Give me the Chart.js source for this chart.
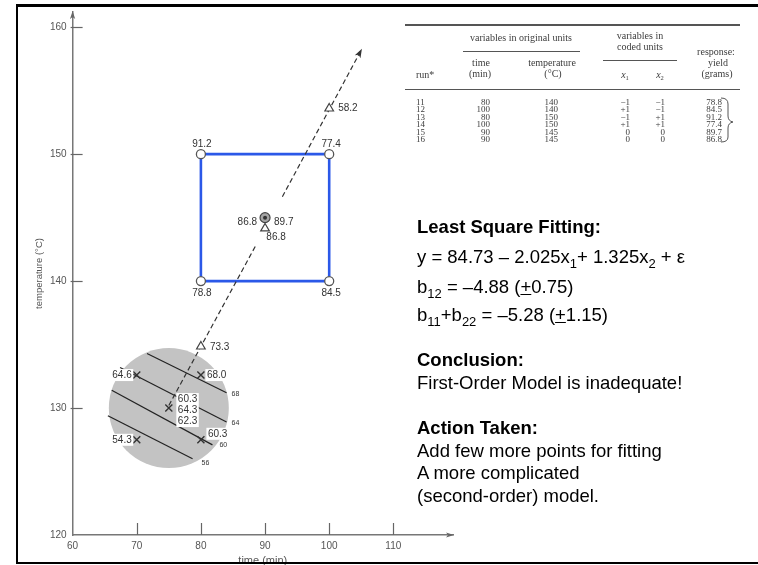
<!DOCTYPE html>
<html>
<head>
<meta charset="utf-8">
<script src="https://cdn.jsdelivr.net/npm/chart.js@4/dist/chart.umd.min.js"></script>
<style>
  html, body { margin: 0; padding: 0; background: #fff; }
  #wrap { position: relative; width: 758px; height: 565px; overflow: hidden; background: #fff; }
  #chart { position: absolute; left: 0; top: 0; }
  #frame { position: absolute; left: 16px; top: 4px; width: 780px; height: 555px;
           border-left: 2px solid #000; border-top: 3px solid #000; border-bottom: 2px solid #000;
           pointer-events: none; }
  .tb { position: absolute; font-family: "Liberation Serif", "DejaVu Serif", serif; color: #3c3c3c;
        white-space: nowrap; line-height: 1; }
  .tb.hd { font-size: 10px; }
  .tb.row { font-size: 9px; }
  .tb i { font-style: italic; }
  .tb sub { font-size: 6.5px; vertical-align: -2px; line-height: 0; }
  .rule { position: absolute; background: #555; height: 1px; }
  .nt { position: absolute; left: 417px; font-family: "Liberation Sans", Arial, sans-serif;
        font-size: 18.5px; color: #000; line-height: 22px; white-space: nowrap; }
  .nt b { font-weight: bold; }
  .nt sub { font-size: 13px; vertical-align: -5px; line-height: 0; }
</style>
</head>
<body>
<div id="wrap">
  <canvas id="chart" width="758" height="565"></canvas>
  <div id="table"></div>
  <svg id="brace" width="758" height="565" style="position:absolute;left:0;top:0;pointer-events:none">
    <path d="M721,98 Q728,98 728,104 L728,116 Q728,121 733,122 Q728,123 728,128 L728,137 Q728,142 721,142"
          fill="none" stroke="#555" stroke-width="1"/>
  </svg>
  <div class="nt" style="top:216px"><b>Least Square Fitting:</b></div>
  <div class="nt" style="top:246px">y = 84.73 – 2.025x<sub>1</sub>+ 1.325x<sub>2</sub> + ε</div>
  <div class="nt" style="top:276px">b<sub>12</sub> = –4.88 (<u>+</u>0.75)</div>
  <div class="nt" style="top:304px">b<sub>11</sub>+b<sub>22</sub> = –5.28 (<u>+</u>1.15)</div>
  <div class="nt" style="top:349px"><b>Conclusion:</b></div>
  <div class="nt" style="top:372px">First-Order Model is inadequate!</div>
  <div class="nt" style="top:417px"><b>Action Taken:</b></div>
  <div class="nt" style="top:440px">Add few more points for fitting</div>
  <div class="nt" style="top:462px">A more complicated</div>
  <div class="nt" style="top:485px">(second-order) model.</div>
  <div id="frame"></div>
</div>
<script>
// ---- axes ----
const timeTicks = [60, 70, 80, 90, 100, 110];
const tempTicks = [120, 130, 140, 150, 160];
const timeRange = [60, 119.3];
const tempRange = [120, 161.2];

// ---- runs 11-16: 2^2 factorial with two centre points ----
const runs = ['11', '12', '13', '14', '15', '16'];
const runTime = [80, 100, 80, 100, 90, 90];
const runTemp = [140, 140, 150, 150, 145, 145];
const codedX1 = ['\u22121', '+1', '\u22121', '+1', '0', '0'];
const codedX2 = ['\u22121', '\u22121', '+1', '+1', '0', '0'];
const runYield = [78.8, 84.5, 91.2, 77.4, 89.7, 86.8];

// ---- first design (circle region) ----
const firstTime = [70, 80, 70, 80, 75];
const firstTemp = [132.6, 132.6, 127.5, 127.5, 130];
const firstYield = [['64.6'], ['68.0'], ['54.3'], ['60.3'], ['60.3', '64.3', '62.3']];
const regionCentre = [75, 130];

// ---- contours of the first-order fit ----
const contourLevels = [68, 64, 60, 56];
const contourTime = [[71.6, 84.0], [67.4, 84.0], [66.1, 81.8], [65.5, 78.7]];
const contourTemp = [[134.3, 131.2], [133.2, 128.9], [131.4, 127.1], [129.4, 126.0]];

// ---- path of steepest ascent ----
const ascentTime = [80, 90, 100];
const ascentTemp = [134.85, 144.15, 153.6];
const ascentYield = [73.3, 86.8, 58.2];
const ascentLowerTime = [75, 88.6];
const ascentLowerTemp = [130.2, 142.85];
const ascentUpperTime = [92.7, 105.1];
const ascentUpperTemp = [146.65, 158.3];

// ---------- table ----------
const tableEl = document.getElementById('table');
function place(html, x, y, align, cls) {
  const s = document.createElement('span');
  s.className = 'tb ' + cls;
  s.innerHTML = html;
  s.style.left = x + 'px';
  s.style.top = y + 'px';
  const tx = align === 'l' ? '0' : align === 'r' ? '-100%' : '-50%';
  s.style.transform = 'translate(' + tx + ',-50%)';
  tableEl.appendChild(s);
}
function rule(x1, x2, y, h) {
  const d = document.createElement('div');
  d.className = 'rule';
  d.style.left = x1 + 'px'; d.style.width = (x2 - x1) + 'px';
  d.style.top = y + 'px'; d.style.height = h + 'px';
  tableEl.appendChild(d);
}
rule(405, 740, 24, 2);
place('variables in original units', 521, 38, 'c', 'hd');
rule(463, 580, 51, 1);
place('variables in', 640, 36, 'c', 'hd');
place('coded units', 640, 47, 'c', 'hd');
rule(603, 677, 60, 1);
place('response:', 716, 52, 'c', 'hd');
place('time', 481, 63, 'c', 'hd');
place('(min)', 480, 74, 'c', 'hd');
place('temperature', 552, 63, 'c', 'hd');
place('(\u00B0C)', 553, 74, 'c', 'hd');
place('yield', 718, 63, 'c', 'hd');
place('(grams)', 717, 74, 'c', 'hd');
place('run*', 416, 75, 'l', 'hd');
place('<i>x</i><sub>1</sub>', 625, 75, 'c', 'hd');
place('<i>x</i><sub>2</sub>', 660, 75, 'c', 'hd');
rule(405, 740, 89, 1);
runs.forEach((r, i) => {
  const y = 102 + i * 7.4;
  place(r, 416, y, 'l', 'row');
  place(String(runTime[i]), 490, y, 'r', 'row');
  place(String(runTemp[i]), 558, y, 'r', 'row');
  place(codedX1[i], 630, y, 'r', 'row');
  place(codedX2[i], 665, y, 'r', 'row');
  place(runYield[i].toFixed(1), 722, y, 'r', 'row');
});

// ---------- chart ----------
const pts = (xs, ys) => xs.map((x, i) => ({ x: x, y: ys[i] }));
const INK = '#333';
const LABEL_FONT = '10px "Liberation Sans", Arial, sans-serif';

const datasets = [];
datasets.push({
  type: 'bubble', order: 20,
  data: [{ x: regionCentre[0], y: regionCentre[1], r: 60 }],
  backgroundColor: '#c3c3c3', borderWidth: 0
});
contourLevels.forEach((lv, i) => {
  datasets.push({
    type: 'line', order: 15, data: pts(contourTime[i], contourTemp[i]),
    borderColor: '#222', borderWidth: 1.2, pointRadius: 0, fill: false
  });
});
datasets.push({
  type: 'line', order: 12,
  data: pts([runTime[0], runTime[1], runTime[3], runTime[2], runTime[0]],
            [runTemp[0], runTemp[1], runTemp[3], runTemp[2], runTemp[0]]),
  borderColor: '#2b58e8', borderWidth: 2.6, pointRadius: 0, fill: false
});
datasets.push({
  type: 'line', order: 11, data: pts(ascentLowerTime, ascentLowerTemp),
  borderColor: INK, borderWidth: 1.2, borderDash: [5, 3], pointRadius: 0, fill: false
});
datasets.push({
  type: 'line', order: 11, data: pts(ascentUpperTime, ascentUpperTemp),
  borderColor: INK, borderWidth: 1.2, borderDash: [5, 3], pointRadius: 0, fill: false
});
datasets.push({
  type: 'scatter', order: 6, data: pts(firstTime, firstTemp),
  pointStyle: 'crossRot', pointRadius: 5, borderColor: INK, borderWidth: 1.4
});
datasets.push({
  type: 'scatter', order: 5, data: pts(runTime.slice(0, 4), runTemp.slice(0, 4)),
  pointStyle: 'circle', pointRadius: 4.5, backgroundColor: '#fff', borderColor: '#555', borderWidth: 1.3
});
datasets.push({
  type: 'scatter', order: 4, data: pts(ascentTime, ascentTemp),
  pointStyle: 'triangle', pointRadius: 5, backgroundColor: '#fff', borderColor: '#444', borderWidth: 1.2
});
datasets.push({
  type: 'scatter', order: 3, data: pts([runTime[4]], [runTemp[4]]),
  pointStyle: 'circle', pointRadius: 5, backgroundColor: '#a5a5a5', borderColor: '#444', borderWidth: 1.2
});
datasets.push({
  type: 'scatter', order: 2, data: pts([runTime[4]], [runTemp[4]]),
  pointStyle: 'circle', pointRadius: 2, backgroundColor: '#333', borderColor: '#333', borderWidth: 0
});

// label placement (pixel offsets from each mark)
const boxLabelOffsets = [[1, 12], [2, 12], [1, -10], [2, -10]];
const firstLabelStyle = [
  { dx: -5, dy: 0, align: 'right' }, { dx: 6, dy: 0, align: 'left' },
  { dx: -5, dy: 0, align: 'right' }, { dx: 7, dy: -6, align: 'left' },
  { dx: 9, dy: -9, align: 'left' }
];
const ascentLabelStyle = [
  { dx: 9, dy: 1, align: 'left' }, { dx: 11, dy: 9, align: 'center' }, { dx: 9, dy: 0, align: 'left' }
];
const contourLabelOffsets = [[5, 1], [5, 1], [7, 0], [9, 4]];

function text(ctx, lines, x, y, align, boxed, font, lh) {
  ctx.font = font;
  ctx.textBaseline = 'middle';
  ctx.textAlign = align;
  if (boxed) {
    const w = Math.max(...lines.map(t => ctx.measureText(t).width));
    const left = align === 'left' ? x : align === 'right' ? x - w : x - w / 2;
    ctx.fillStyle = '#fff';
    ctx.fillRect(left - 1.5, y - lh / 2 - 0.5, w + 3, lh * lines.length + 1);
  }
  ctx.fillStyle = INK;
  lines.forEach((t, i) => ctx.fillText(t, x, y + i * lh));
}

function arrowHead(ctx, x, y, ang, len, half, color) {
  ctx.save();
  ctx.translate(x, y);
  ctx.rotate(ang);
  ctx.beginPath();
  ctx.moveTo(0, 0);
  ctx.lineTo(-len, -half);
  ctx.lineTo(-len * 0.75, 0);
  ctx.lineTo(-len, half);
  ctx.closePath();
  ctx.fillStyle = color;
  ctx.fill();
  ctx.restore();
}

const marksPlugin = {
  id: 'marks',
  afterDatasetsDraw(chart) {
    const { ctx, scales: { x, y }, chartArea: ca } = chart;
    ctx.save();
    // inward tick marks
    ctx.strokeStyle = '#666';
    ctx.lineWidth = 1.2;
    tempTicks.slice(1).forEach(v => {
      const py = Math.round(y.getPixelForValue(v)) + 0.5;
      ctx.beginPath(); ctx.moveTo(ca.left - 2, py); ctx.lineTo(ca.left + 10, py); ctx.stroke();
    });
    timeTicks.slice(1).forEach(v => {
      const px = Math.round(x.getPixelForValue(v)) + 0.5;
      ctx.beginPath(); ctx.moveTo(px, ca.bottom - 12); ctx.lineTo(px, ca.bottom); ctx.stroke();
    });
    // axis arrows
    arrowHead(ctx, ca.left, ca.top - 1, -Math.PI / 2, 8, 2.6, '#666');
    arrowHead(ctx, ca.right + 1, ca.bottom, 0, 8, 2.6, '#666');
    // arrow at end of the ascent path
    const n = ascentUpperTime.length;
    const ex = x.getPixelForValue(ascentUpperTime[n - 1]), ey = y.getPixelForValue(ascentUpperTemp[n - 1]);
    const sx = x.getPixelForValue(ascentUpperTime[0]), sy = y.getPixelForValue(ascentUpperTemp[0]);
    arrowHead(ctx, ex, ey, Math.atan2(ey - sy, ex - sx), 9, 3.2, INK);

    // contour labels
    contourLevels.forEach((lv, i) => {
      const px = x.getPixelForValue(contourTime[i][1]) + contourLabelOffsets[i][0];
      const py = y.getPixelForValue(contourTemp[i][1]) + contourLabelOffsets[i][1];
      text(ctx, [String(lv)], px, py, 'left', false, '7px "Liberation Sans", Arial, sans-serif', 8);
    });
    // factorial corner yields
    for (let i = 0; i < 4; i++) {
      const px = x.getPixelForValue(runTime[i]) + boxLabelOffsets[i][0];
      const py = y.getPixelForValue(runTemp[i]) + boxLabelOffsets[i][1];
      text(ctx, [runYield[i].toFixed(1)], px, py, 'center', false, LABEL_FONT, 11);
    }
    // centre point replicates
    const cx = x.getPixelForValue(runTime[4]), cy = y.getPixelForValue(runTemp[4]);
    text(ctx, [runYield[5].toFixed(1)], cx - 8, cy + 5, 'right', false, LABEL_FONT, 11);
    text(ctx, [runYield[4].toFixed(1)], cx + 9, cy + 5, 'left', false, LABEL_FONT, 11);
    // first design yields
    firstYield.forEach((lines, i) => {
      const s = firstLabelStyle[i];
      const px = x.getPixelForValue(firstTime[i]) + s.dx;
      const py = y.getPixelForValue(firstTemp[i]) + s.dy;
      text(ctx, lines, px, py, s.align, true, LABEL_FONT, 11);
    });
    // steepest ascent yields
    ascentYield.forEach((v, i) => {
      const s = ascentLabelStyle[i];
      const px = x.getPixelForValue(ascentTime[i]) + s.dx;
      const py = y.getPixelForValue(ascentTemp[i]) + s.dy;
      text(ctx, [v.toFixed(1)], px, py, s.align, false, LABEL_FONT, 11);
    });
    ctx.restore();
  }
};

Chart.defaults.font.family = '"Liberation Sans", Arial, sans-serif';

new Chart(document.getElementById('chart'), {
  type: 'scatter',
  data: { datasets: datasets },
  options: {
    responsive: false,
    animation: false,
    devicePixelRatio: 1,
    layout: { autoPadding: false, padding: { left: 20, top: 8.7, right: 305, bottom: 0 } },
    plugins: { legend: { display: false }, tooltip: { enabled: false } },
    scales: {
      x: {
        type: 'linear', min: timeRange[0], max: timeRange[1],
        afterBuildTicks: s => { s.ticks = timeTicks.map(v => ({ value: v })); },
        afterFit: s => { s.height = 30; },
        grid: { display: false, drawTicks: false },
        border: { display: true, color: '#777', width: 1.5 },
        ticks: { padding: 5, color: '#555', font: { size: 10 }, maxRotation: 0, autoSkip: false },
        title: { display: true, text: 'time (min)', color: '#555', font: { size: 11 }, padding: { top: 0, bottom: -3 } }
      },
      y: {
        type: 'linear', min: tempRange[0], max: tempRange[1],
        afterBuildTicks: s => { s.ticks = tempTicks.map(v => ({ value: v })); },
        afterFit: s => { s.width = 52.6; },
        grid: { display: false, drawTicks: false },
        border: { display: true, color: '#777', width: 1.5 },
        ticks: { padding: 6, color: '#555', font: { size: 10 }, autoSkip: false },
        title: { display: true, text: 'temperature (\u00B0C)', color: '#555', font: { size: 9.5 }, padding: { top: 14, bottom: 0 } }
      }
    }
  },
  plugins: [marksPlugin]
});
</script>
</body>
</html>
